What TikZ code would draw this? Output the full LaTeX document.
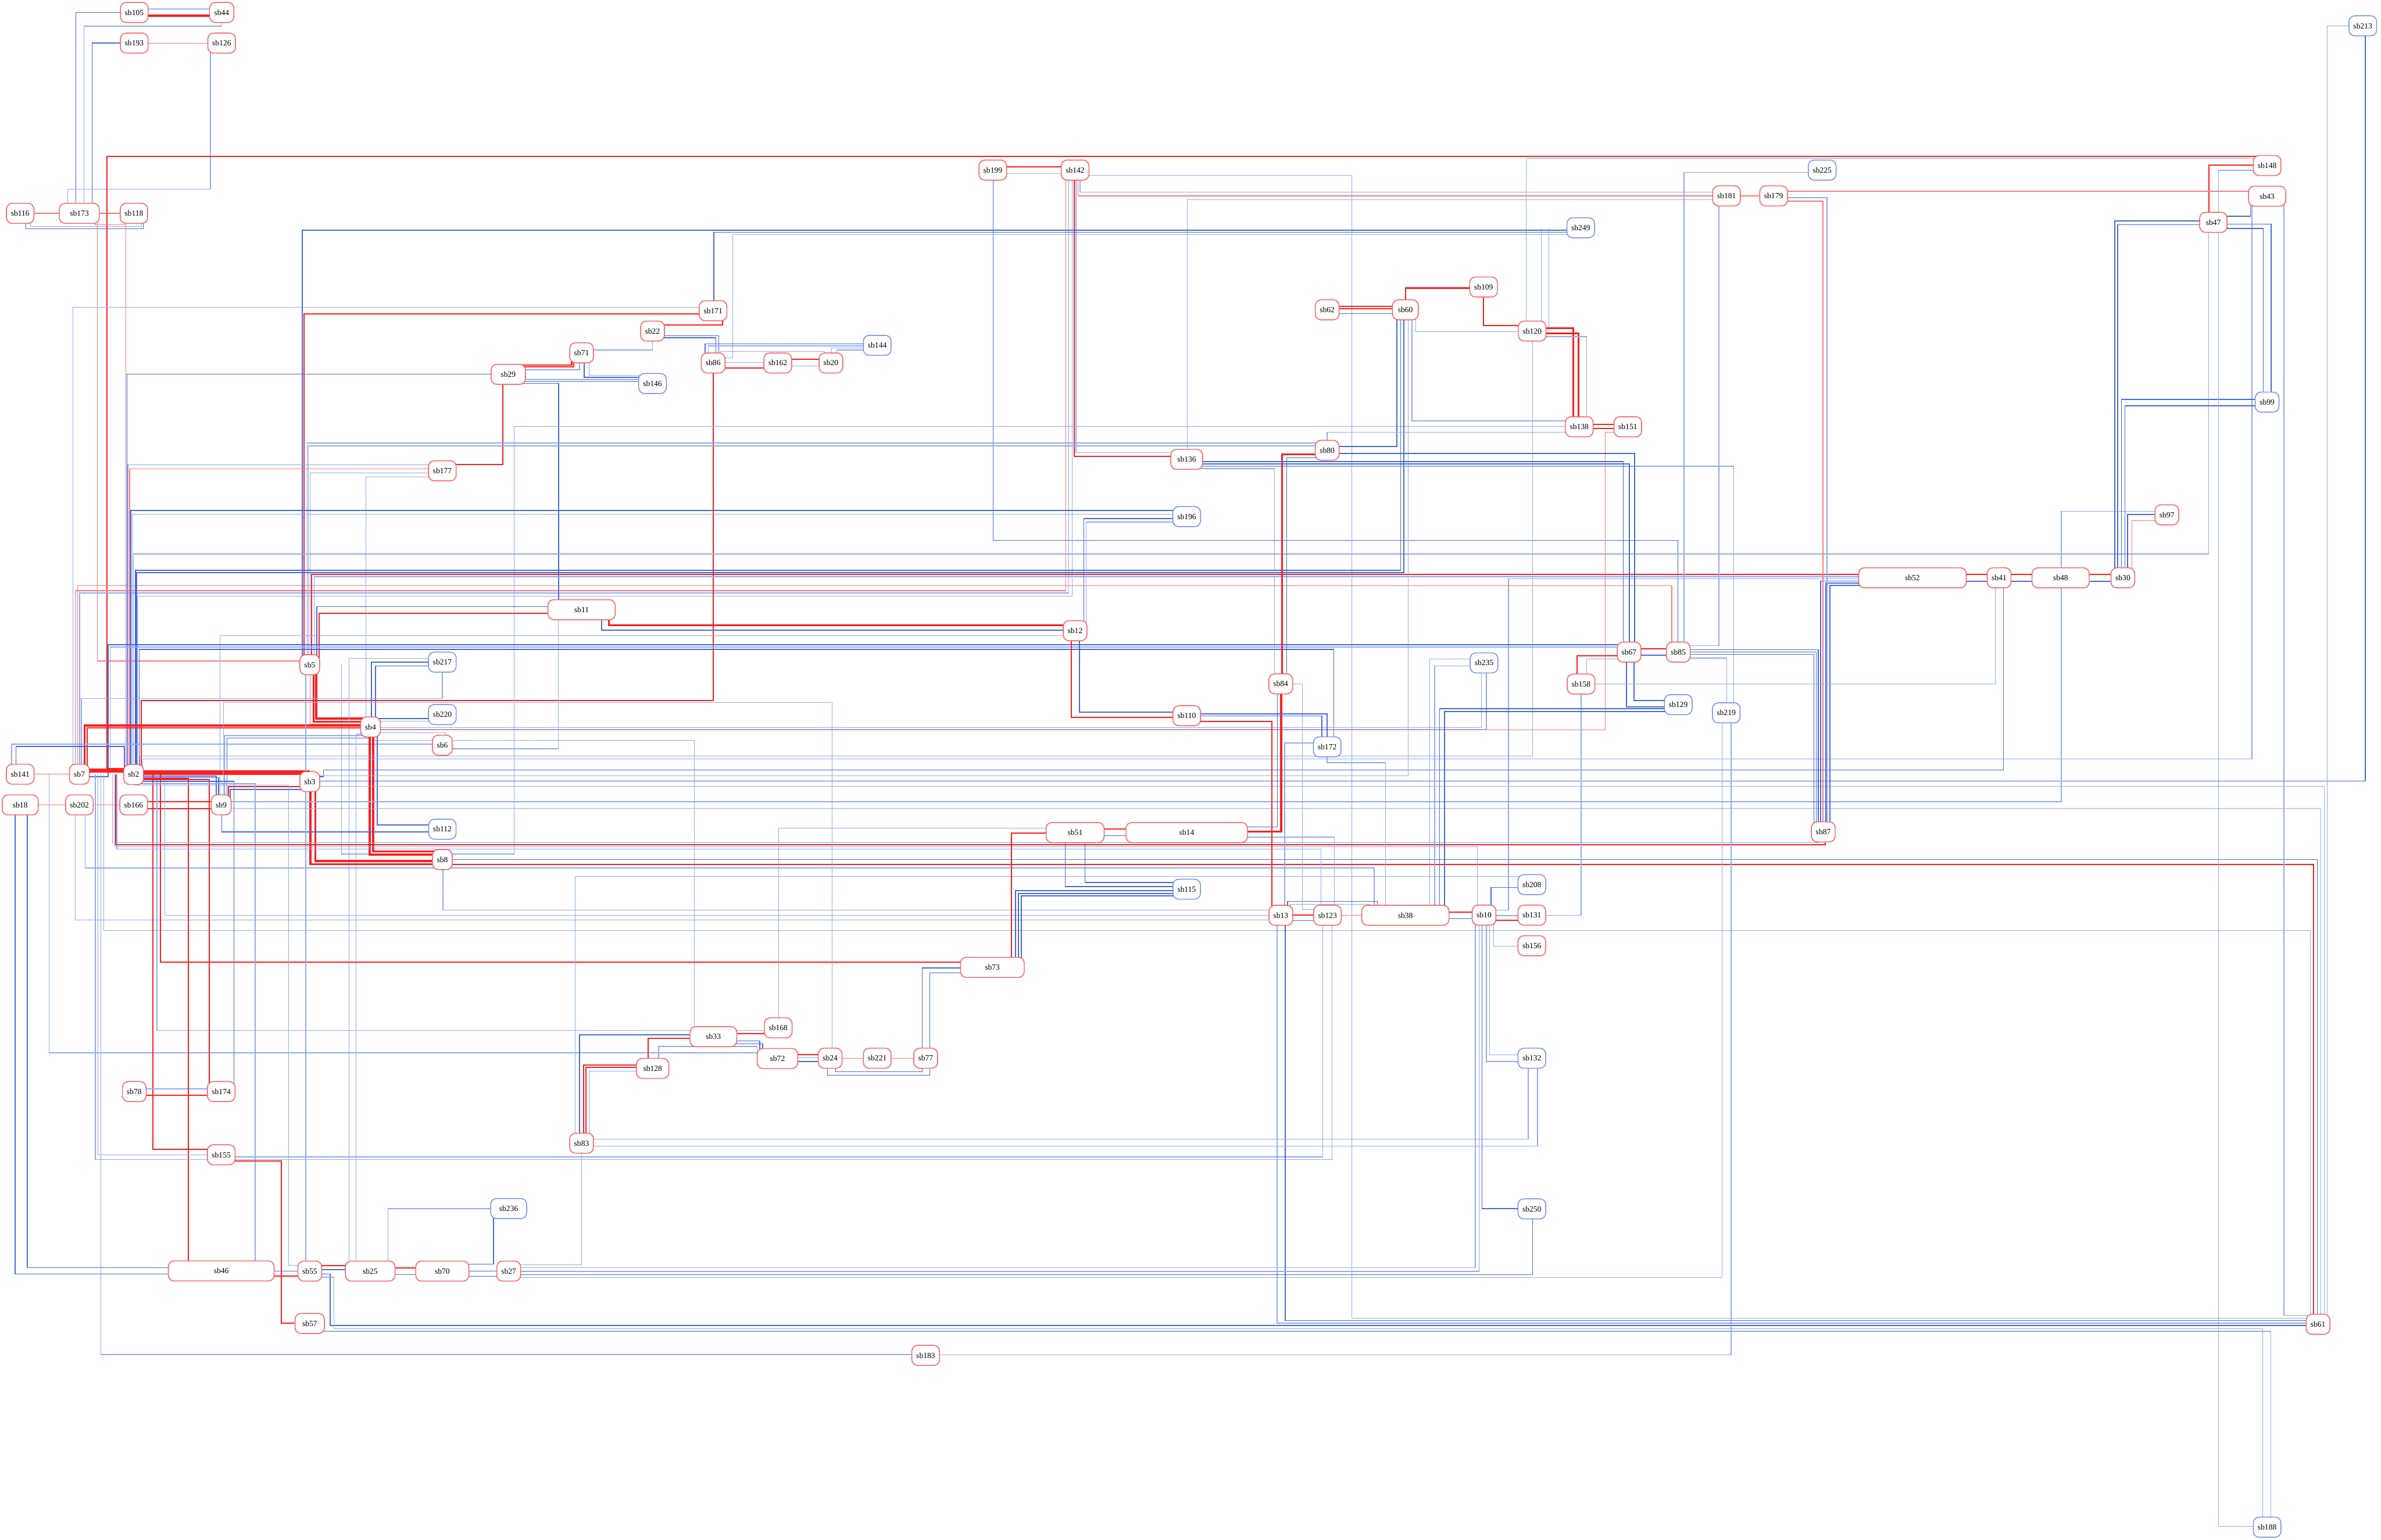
\documentclass[tikz,border=0pt]{standalone}
\usepackage{fontspec}
\setmainfont{Liberation Serif}
\pgfdeclarelayer{bg}
\pgfsetlayers{bg,main}
\definecolor{nred}{RGB}{255,90,90}
\definecolor{nblue}{RGB}{110,140,235}
\definecolor{redd}{RGB}{255,30,30}
\definecolor{redl}{RGB}{255,120,120}
\definecolor{blued}{RGB}{70,105,225}
\definecolor{bluel}{RGB}{145,170,240}
\tikzset{
  nd/.style={rounded corners=3.8pt, minimum height=13.2pt, inner xsep=2.9pt, inner ysep=0pt, fill=white, line width=0.55pt, font=\fontsize{5.2}{6}\selectfont},
  rn/.style={nd, draw=nred},
  bn/.style={nd, draw=nblue},
  r1/.style={draw=redl, line width=0.5pt},
  r2/.style={draw=redd, line width=0.8pt},
  r3/.style={draw=redd, line width=1.3pt},
  r4/.style={draw=redd, line width=2.8pt},
  b1/.style={draw=bluel, line width=0.5pt},
  b2/.style={draw=blued, line width=0.6pt},
}
\begin{document}
\begin{tikzpicture}[x=1pt,y=-1pt]
\useasboundingbox (0,0) rectangle (1568,1014);
% ---------------- nodes ----------------
\node[rn] (sb105) at (88.4,8.2) {sb105};
\node[rn, minimum width=16pt] (sb44) at (146,8.2) {sb44};
\node[rn] (sb193) at (88.4,28.4) {sb193};
\node[rn] (sb126) at (146,28.4) {sb126};
\node[bn] (sb213) at (1556,17) {sb213};
\node[rn] (sb116) at (13.3,140.5) {sb116};
\node[rn, minimum width=26.3pt] (sb173) at (52.3,140.5) {sb173};
\node[rn] (sb118) at (88.2,140.5) {sb118};
\node[rn] (sb199) at (653.8,112) {sb199};
\node[rn] (sb142) at (708,112) {sb142};
\node[rn] (sb148) at (1493,109) {sb148};
\node[bn] (sb225) at (1200,112) {sb225};
\node[rn, minimum width=24.5pt] (sb43) at (1493,129.2) {sb43};
\node[rn] (sb181) at (1137,129) {sb181};
\node[rn] (sb179) at (1168,129) {sb179};
\node[rn, minimum width=18pt] (sb47) at (1457.6,146.4) {sb47};
\node[bn] (sb249) at (1041,150) {sb249};
\node[rn] (sb171) at (469.6,204.6) {sb171};
\node[rn] (sb109) at (977,189) {sb109};
\node[rn] (sb62) at (874,204) {sb62};
\node[rn, minimum width=17pt] (sb60) at (925.5,204) {sb60};
\node[rn] (sb22) at (429.7,218) {sb22};
\node[rn] (sb120) at (1009,218) {sb120};
\node[bn] (sb144) at (577.7,227.4) {sb144};
\node[rn] (sb71) at (383,232.3) {sb71};
\node[rn] (sb86) at (469.6,239) {sb86};
\node[rn] (sb162) at (512.2,239) {sb162};
\node[rn] (sb20) at (547.2,239) {sb20};
\node[rn, minimum width=22.6pt] (sb29) at (334.7,246.5) {sb29};
\node[bn] (sb146) at (429.7,252.5) {sb146};
\node[bn] (sb99) at (1493,264.8) {sb99};
\node[rn] (sb138) at (1040,281) {sb138};
\node[rn] (sb151) at (1072,281) {sb151};
\node[rn] (sb80) at (874,296.5) {sb80};
\node[rn, minimum width=21pt] (sb136) at (781.5,302.5) {sb136};
\node[rn] (sb177) at (291.3,310) {sb177};
\node[bn] (sb196) at (781.5,340.2) {sb196};
\node[rn] (sb97) at (1427,339) {sb97};
\node[rn, minimum width=70.8pt] (sb52) at (1259.4,380.5) {sb52};
\node[rn] (sb41) at (1316.5,380.5) {sb41};
\node[rn, minimum width=37.6pt] (sb48) at (1357,380.5) {sb48};
\node[rn] (sb30) at (1398,380.5) {sb30};
\node[rn, minimum width=44.3pt] (sb11) at (383,401.5) {sb11};
\node[rn] (sb12) at (708,415.3) {sb12};
\node[rn] (sb5) at (204,437.7) {sb5};
\node[bn] (sb217) at (291.3,436) {sb217};
\node[rn] (sb67) at (1072.8,429.4) {sb67};
\node[rn] (sb85) at (1105.2,429.4) {sb85};
\node[bn] (sb235) at (977.3,436.5) {sb235};
\node[rn] (sb84) at (843.4,450.3) {sb84};
\node[rn] (sb158) at (1041.2,450.4) {sb158};
\node[bn] (sb129) at (1105.2,464) {sb129};
\node[bn] (sb220) at (291.3,470.5) {sb220};
\node[rn] (sb110) at (781.5,471.3) {sb110};
\node[bn] (sb219) at (1136.8,469.4) {sb219};
\node[rn] (sb4) at (244,478.7) {sb4};
\node[rn] (sb6) at (291.3,490.7) {sb6};
\node[bn] (sb172) at (874,491.8) {sb172};
\node[rn] (sb141) at (13.3,509.8) {sb141};
\node[rn] (sb7) at (52.3,509.8) {sb7};
\node[rn] (sb2) at (88,510) {sb2};
\node[rn] (sb3) at (204,514.7) {sb3};
\node[rn, minimum width=23.7pt] (sb18) at (13.3,530) {sb18};
\node[rn] (sb202) at (52.3,530) {sb202};
\node[rn] (sb166) at (88,530) {sb166};
\node[rn] (sb9) at (145.7,530) {sb9};
\node[bn] (sb112) at (291.3,546) {sb112};
\node[rn, minimum width=38.2pt] (sb51) at (708,548.2) {sb51};
\node[rn, minimum width=80pt] (sb14) at (781.5,548.2) {sb14};
\node[rn] (sb87) at (1200.7,547.8) {sb87};
\node[rn] (sb8) at (291.3,566) {sb8};
\node[bn] (sb115) at (781.5,585.5) {sb115};
\node[bn] (sb208) at (1008.8,582.5) {sb208};
\node[rn] (sb13) at (843.5,602.7) {sb13};
\node[rn] (sb123) at (874.2,602.7) {sb123};
\node[rn, minimum width=57.5pt] (sb38) at (925.5,602.7) {sb38};
\node[rn] (sb10) at (977.3,602.6) {sb10};
\node[rn] (sb131) at (1008.8,602.6) {sb131};
\node[rn] (sb156) at (1008.8,622.8) {sb156};
\node[rn, minimum width=42pt] (sb73) at (653.5,637) {sb73};
\node[rn] (sb168) at (512.5,676.8) {sb168};
\node[rn, minimum width=30.8pt] (sb33) at (469.8,682.6) {sb33};
\node[rn, minimum width=26.7pt] (sb72) at (512,697) {sb72};
\node[rn] (sb24) at (546.7,696.8) {sb24};
\node[rn] (sb221) at (577.7,696.8) {sb221};
\node[rn] (sb77) at (609.6,696.8) {sb77};
\node[bn] (sb132) at (1008.8,696.8) {sb132};
\node[rn, minimum width=21.3pt] (sb128) at (429.8,703.5) {sb128};
\node[rn] (sb78) at (88.4,718.8) {sb78};
\node[rn] (sb174) at (145.7,718.8) {sb174};
\node[rn] (sb83) at (383,752.8) {sb83};
\node[rn] (sb155) at (145.7,760.4) {sb155};
\node[bn, minimum width=23.7pt] (sb236) at (335,795.8) {sb236};
\node[bn] (sb250) at (1008.8,796) {sb250};
\node[rn, minimum width=69.7pt] (sb46) at (145.7,836.9) {sb46};
\node[rn] (sb55) at (204,837) {sb55};
\node[rn, minimum width=32.7pt] (sb25) at (243.8,837) {sb25};
\node[rn, minimum width=35pt] (sb70) at (291.3,837) {sb70};
\node[rn, minimum width=15.7pt] (sb27) at (335,837) {sb27};
\node[rn] (sb61) at (1526.5,872) {sb61};
\node[rn, minimum width=19.3pt] (sb57) at (204,871.5) {sb57};
\node[rn] (sb183) at (609.6,892.5) {sb183};
\node[bn] (sb188) at (1493,1005.6) {sb188};
% ---------------- edges ----------------
\begin{pgfonlayer}{bg}
% top-left cluster
\draw[b2] (sb105 |- 0,6) -- (sb44 |- 0,6);
\draw[r3] (sb105 |- 0,10.3) -- (sb44 |- 0,10.3);
\draw[b2] (sb105) -- (50,0 |- sb105) -- (50,0 |- sb173);
\draw[b1] (sb44) -- (146,17.2) -- (55.4,17.2) -- (55.4,0 |- sb173);
\draw[b2] (sb193) -- (60.6,0 |- sb193) -- (60.6,0 |- sb173);
\draw[r1] (sb193) -- (sb126);
\draw[b1] (138.6,0 |- sb126) -- (138.6,124.5) -- (44.5,124.5) -- (44.5,0 |- sb173);
\draw[r1] (sb116) -- (sb173);
\draw[r1] (sb173) -- (sb118);
\draw[b2] (17,0 |- sb116) -- (17,150.7) -- (94.3,150.7) -- (94.3,0 |- sb118);
\draw[b1] (20,0 |- sb116) -- (20,149.2) -- (93.3,149.2) -- (93.3,0 |- sb118);
\draw[r2] (sb148 |- 0,103) -- (70.3,103) -- (70.3,506) -- (sb2 |- 0,506);
\draw[b1] (sb148 |- 0,104.3) -- (1005,104.3) -- (1005,0 |- sb120);
\draw[r1] (64.2,0 |- sb173) -- (64.2,435.3) -- (sb5 |- 0,435.3);
\draw[r1] (62.6,0 |- sb173) -- (62.6,148) -- (82.8,148) -- (82.8,0 |- sb2);
% sb199 / sb142
\draw[r2] (sb199 |- 0,109.8) -- (sb142 |- 0,109.8);
\draw[b1] (sb199 |- 0,114.3) -- (sb142 |- 0,114.3);
\draw[b2] (654,0 |- sb199) -- (654,355.9) -- (1105,355.9) -- (1105,0 |- sb85);
\draw[b1] (sb142 |- 0,115.4) -- (890.3,115.4) -- (890.3,868) -- (sb61 |- 0,868);
\draw[r1] (709.8,0 |- sb142) -- (709.8,129) -- (sb181 |- 0,129);
\draw[b1] (711.3,0 |- sb142) -- (711.3,126.6) -- (sb181 |- 0,126.6);
\draw[b1] (sb181 |- 0,131.4) -- (781.8,131.4) -- (781.8,0 |- sb136);
\draw[r1] (702,0 |- sb142) -- (702,388.9) -- (49.5,388.9) -- (49.5,0 |- sb7);
\draw[r1] (1101,0 |- sb85) -- (1101,385.8) -- (51,385.8) -- (51,0 |- sb7);
\draw[b1] (703.7,0 |- sb142) -- (703.7,390.5) -- (52.5,390.5) -- (52.5,0 |- sb7);
\draw[b1] (706,0 |- sb142) -- (706,392.5) -- (90.5,392.5) -- (90.5,0 |- sb2);
\draw[r2] (707.3,0 |- sb142) -- (707.3,300.5) -- (sb136 |- 0,300.5);
\draw[b1] (708.6,0 |- sb142) -- (708.6,298) -- (sb136 |- 0,298);
% sb249
\draw[b2] (sb249 |- 0,151.5) -- (199,151.5) -- (199,0 |- sb5);
\draw[b2] (sb249 |- 0,153) -- (470,153) -- (470,0 |- sb171);
\draw[b1] (sb249 |- 0,154.5) -- (482.6,154.5) -- (482.6,235.5) -- (sb86 |- 0,235.5);
\draw[b1] (1015,0 |- sb249) -- (1015,0 |- sb120);
\draw[b1] (1020,0 |- sb249) -- (1020,0 |- sb120);
% sb171 / sb22 / sb71 / sb29
\draw[b1] (sb171 |- 0,202.2) -- (48,202.2) -- (48,0 |- sb7);
\draw[r2] (sb171 |- 0,206.8) -- (200.3,206.8) -- (200.3,0 |- sb5);
\draw[r2] (475.9,0 |- sb171) -- (475.9,213.9) -- (sb22 |- 0,213.9);
\draw[b2] (sb22 |- 0,221) -- (473.3,221) -- (473.3,0 |- sb86);
\draw[b2] (sb22 |- 0,222.5) -- (471.5,222.5) -- (471.5,0 |- sb86);
\draw[b1] (429.7,0 |- sb22) -- (429.7,230.4) -- (sb71 |- 0,230.4);
\draw[r2] (378,0 |- sb71) -- (378,241.6) -- (sb29 |- 0,241.6);
\draw[r2] (376.5,0 |- sb71) -- (376.5,240.4) -- (sb29 |- 0,240.4);
\draw[b2] (384.8,0 |- sb71) -- (384.8,248.5) -- (sb146 |- 0,248.5);
\draw[b1] (388,0 |- sb71) -- (388,247) -- (sb146 |- 0,247);
\draw[b2] (sb29 |- 0,249.8) -- (sb146 |- 0,249.8);
\draw[b1] (sb29 |- 0,251.1) -- (sb146 |- 0,251.1);
\draw[b1] (sb29 |- 0,243.5) -- (381.7,243.5) -- (381.7,0 |- sb71);
\draw[b2] (sb29 |- 0,246.4) -- (83.6,246.4) -- (83.6,0 |- sb2);
\draw[b2] (sb29 |- 0,252.4) -- (367.8,252.4) -- (367.8,0 |- sb11);
\draw[r2] (331,0 |- sb29) -- (331,306) -- (sb177 |- 0,306);
% sb177
\draw[b1] (sb177 |- 0,306) -- (84.2,306) -- (84.2,0 |- sb2);
\draw[r1] (sb177 |- 0,308.7) -- (85.4,308.7) -- (85.4,0 |- sb2);
\draw[b1] (sb177 |- 0,311.3) -- (204.3,311.3) -- (204.3,0 |- sb5);
\draw[b1] (sb177 |- 0,314) -- (240.9,314) -- (240.9,0 |- sb4);
% sb144 / sb86 / sb162 / sb20
\draw[b2] (sb144 |- 0,226.5) -- (464.4,226.5) -- (464.4,0 |- sb86);
\draw[b1] (sb144 |- 0,227.8) -- (466.5,227.8) -- (466.5,0 |- sb86);
\draw[b1] (sb144 |- 0,229.2) -- (547.6,229.2) -- (547.6,0 |- sb20);
\draw[b1] (sb144 |- 0,230.4) -- (551,230.4) -- (551,0 |- sb20);
\draw[b1] (474.5,0 |- sb86) -- (474.5,231.4) -- (543,231.4) -- (543,0 |- sb20);
\draw[b1] (sb86 |- 0,238.6) -- (sb162 |- 0,238.6);
\draw[r2] (sb86 |- 0,242.2) -- (sb162 |- 0,242.2);
\draw[r2] (sb162 |- 0,236.7) -- (sb20 |- 0,236.7);
\draw[b1] (sb162 |- 0,241) -- (sb20 |- 0,241);
\draw[r2] (469.7,0 |- sb86) -- (469.7,461.3) -- (93,461.3) -- (93,0 |- sb2);
% sb5 / sb138 / sb80 / sb196 / sb47 / sb60 / sb52
\draw[b1] (224.8,0 |- sb5) -- (224.8,562.4) -- (338.7,562.4) -- (338.7,280.7) -- (sb138 |- 0,280.7);
\draw[b1] (sb80 |- 0,291.7) -- (202.2,291.7) -- (202.2,0 |- sb5);
\draw[b1] (sb80 |- 0,293.6) -- (203.2,293.6) -- (203.2,0 |- sb5);
\draw[b2] (sb196 |- 0,336.2) -- (86.2,336.2) -- (86.2,0 |- sb2);
\draw[b1] (sb196 |- 0,338.7) -- (87,338.7) -- (87,0 |- sb2);
\draw[b1] (1454.6,0 |- sb47) -- (1454.6,364.8) -- (87.8,364.8) -- (87.8,0 |- sb2);
\draw[b2] (922.3,0 |- sb60) -- (922.3,375.5) -- (89.2,375.5) -- (89.2,0 |- sb2);
\draw[b2] (924.5,0 |- sb60) -- (924.5,377) -- (89.9,377) -- (89.9,0 |- sb2);
\draw[r2] (sb52 |- 0,378.3) -- (205.3,378.3) -- (205.3,0 |- sb5);
\draw[b1] (sb52 |- 0,379.7) -- (206.8,379.7) -- (206.8,0 |- sb5);
\draw[b1] (sb52 |- 0,381) -- (993.4,381) -- (993.4,599.3) -- (sb10 |- 0,599.3);
% sb11 / sb12
\draw[b2] (sb11 |- 0,399.4) -- (208.7,399.4) -- (208.7,0 |- sb5);
\draw[r2] (sb11 |- 0,403.8) -- (210,403.8) -- (210,0 |- sb5);
\draw[r2] (401,0 |- sb11) -- (401,411.7) -- (sb12 |- 0,411.7);
\draw[b2] (396.3,0 |- sb11) -- (396.3,415) -- (sb12 |- 0,415);
\draw[b1] (367.8,0 |- sb11) -- (367.8,493) -- (sb6 |- 0,493);
\draw[b1] (sb12 |- 0,418.5) -- (144.9,418.5) -- (144.9,0 |- sb9);
\draw[b2] (sb67 |- 0,424.6) -- (71.2,424.6) -- (71.2,511.5) -- (sb7 |- 0,511.5);
\draw[b1] (sb67 |- 0,426.1) -- (72.5,426.1) -- (72.5,0 |- sb141) ;
\draw[b2] (878.4,0 |- sb172) -- (878.4,427.7) -- (91.6,427.7) -- (91.6,0 |- sb2);
% sb5 -> sb4 etc
\draw[r3] (206.5,0 |- sb5) -- (206.5,475.3) -- (sb4 |- 0,475.3);
\draw[r3] (208.2,0 |- sb5) -- (208.2,473.2) -- (sb4 |- 0,473.2);
\draw[r1] (204.3,0 |- sb5) -- (204.3,476.9) -- (sb4 |- 0,476.9);
\draw[b1] (sb217 |- 0,433.4) -- (230,433.4) -- (230,0 |- sb25);
\draw[b2] (sb217 |- 0,436) -- (244.6,436) -- (244.6,0 |- sb4);
\draw[b2] (sb217 |- 0,438.5) -- (247.4,438.5) -- (247.4,0 |- sb4);
\draw[b1] (291.3,0 |- sb217) -- (291.3,460) -- (53.6,460) -- (53.6,0 |- sb7);
\draw[b2] (sb220 |- 0,473.2) -- (sb4 |- 0,473.2);
\draw[b1] (sb220 |- 0,475) -- (sb4 |- 0,475);
\draw[r3] (sb4 |- 0,477.7) -- (55.7,477.7) -- (55.7,0 |- sb7);
\draw[r2] (sb4 |- 0,479.4) -- (57.3,479.4) -- (57.3,0 |- sb7);
\draw[b1] (sb4 |- 0,482.5) -- (293.5,482.5) -- (293.5,0 |- sb6);
\draw[b2] (sb4 |- 0,484.5) -- (148,484.5) -- (148,0 |- sb9);
\draw[b2] (sb4 |- 0,486) -- (149.5,486) -- (149.5,0 |- sb9);
\draw[b1] (sb4 |- 0,483.5) -- (234.4,483.5) -- (234.4,0 |- sb25);
\draw[r1] (sb151 |- 0,284.5) -- (1057,284.5) -- (1057,480.6) -- (sb4 |- 0,480.6);
\draw[b1] (457.3,0 |- sb33) -- (457.3,487.5) -- (sb4 |- 0,487.5);
\draw[b1] (975.6,0 |- sb235) -- (975.6,479) -- (sb4 |- 0,479);
\draw[b1] (978.8,0 |- sb235) -- (978.8,480.2) -- (sb4 |- 0,480.2);
% sb141 / sb7 / sb2 / sb3 / sb9
\draw[r1] (sb141) -- (sb7);
\draw[b1] (7.6,0 |- sb141) -- (7.6,490) -- (sb6 |- 0,490);
\draw[b2] (10.5,0 |- sb141) -- (10.5,491.5) -- (82,491.5) -- (82,0 |- sb2);
\draw[r4] (sb7 |- 0,507.5) -- (sb2 |- 0,507.5);
\draw[r4] (sb2 |- 0,508.7) -- (sb3 |- 0,508.7);
\draw[r1] (sb18) -- (sb202);
\draw[r1] (sb202) -- (sb166);
\draw[r2] (sb166 |- 0,527.8) -- (sb9 |- 0,527.8);
\draw[r2] (sb166 |- 0,532.4) -- (sb9 |- 0,532.4);
\draw[r2] (sb3 |- 0,518.1) -- (150.4,518.1) -- (150.4,0 |- sb9);
\draw[b2] (sb3 |- 0,519.8) -- (151.7,519.8) -- (151.7,0 |- sb9);
\draw[r3] (204.4,0 |- sb3) -- (204.4,569) -- (sb8 |- 0,569);
\draw[r3] (207.7,0 |- sb3) -- (207.7,567) -- (sb8 |- 0,567);
\draw[r3] (243.4,0 |- sb4) -- (243.4,562.7) -- (sb8 |- 0,562.7);
\draw[r3] (245.7,0 |- sb4) -- (245.7,560.7) -- (sb8 |- 0,560.7);
\draw[b2] (sb2 |- 0,511) -- (142.5,511) -- (142.5,0 |- sb9);
\draw[b2] (sb2 |- 0,512) -- (144,512) -- (144,0 |- sb9);
\draw[b2] (146,0 |- sb9) -- (146,547.8) -- (sb112 |- 0,547.8);
\draw[b2] (248.4,0 |- sb4) -- (248.4,543.2) -- (sb112 |- 0,543.2);
\draw[b1] (291.7,0 |- sb8) -- (291.7,599.2) -- (sb13 |- 0,599.2);
\draw[b2] (sb8 |- 0,566) -- (1526,566) -- (1526,0 |- sb61);
\draw[r2] (sb8 |- 0,569.4) -- (1523.4,569.4) -- (1523.4,0 |- sb61);
\draw[b1] (56,0 |- sb202) -- (56,571.5) -- (905,571.5) -- (905,0 |- sb38);
\draw[b1] (49.7,0 |- sb202) -- (49.7,605.8) -- (sb13 |- 0,605.8);
\draw[b1] (108.4,0 |- sb2) -- (108.4,602.7) -- (sb13 |- 0,602.7);
\draw[b1] (68.3,0 |- sb7) -- (68.3,612.7) -- (1521.4,612.7) -- (1521.4,0 |- sb61);
\draw[r2] (105.7,0 |- sb2) -- (105.7,633.5) -- (sb73 |- 0,633.5);
\draw[b1] (103.3,0 |- sb2) -- (103.3,678.4) -- (sb33 |- 0,678.4);
\draw[b1] (32.3,0 |- sb141) -- (32.3,693.3) -- (sb72 |- 0,693.3);
\draw[r2] (100.7,0 |- sb2) -- (100.7,756.7) -- (sb155 |- 0,756.7);
\draw[r2] (sb2 |- 0,513.5) -- (137.7,513.5) -- (137.7,0 |- sb174);
\draw[b2] (sb2 |- 0,514.5) -- (154,514.5) -- (154,0 |- sb174);
\draw[b1] (sb78 |- 0,717) -- (sb174 |- 0,717);
\draw[r2] (sb78 |- 0,721.2) -- (sb174 |- 0,721.2);
\draw[r2] (sb2 |- 0,512.7) -- (124,512.7) -- (124,0 |- sb46);
\draw[b1] (sb2 |- 0,516) -- (168,516) -- (168,0 |- sb46);
\draw[b1] (sb2 |- 0,517) -- (190,517) -- (190,833.2) -- (sb55 |- 0,833.2);
\draw[b1] (201.3,0 |- sb5) -- (201.3,0 |- sb55);
\draw[b2] (10,0 |- sb18) -- (10,839) -- (sb46 |- 0,839);
\draw[b2] (18,0 |- sb18) -- (18,834.7) -- (sb46 |- 0,834.7);
\draw[b1] (66.5,0 |- sb7) -- (66.5,892) -- (sb183 |- 0,892);
\draw[b1] (64.5,0 |- sb7) -- (64.5,760.4) -- (sb155 |- 0,760.4);
\draw[b1] (871,0 |- sb123) -- (871,761.8) -- (sb155 |- 0,761.8);
\draw[b1] (877.1,0 |- sb123) -- (877.1,763.5) -- (62.8,763.5) -- (62.8,0 |- sb7);
\draw[b1] (77,0 |- sb2) -- (77,559) -- (869.9,559) -- (869.9,0 |- sb123);
\draw[b1] (972.8,0 |- sb10) -- (972.8,557.6) -- (75.5,557.6) -- (75.5,0 |- sb2);
\draw[r2] (1202,0 |- sb87) -- (1202,556.3) -- (76.2,556.3) -- (76.2,0 |- sb2);
\draw[b1] (1197,0 |- sb87) -- (1197,554.8) -- (74,554.8) -- (74,0 |- sb2);
% long lines from the right into sb2 / sb3 / sb9
\draw[b1] (1483,0 |- sb43) -- (1483,499.7) -- (94,499.7) -- (94,0 |- sb2);
\draw[b1] (1009.2,0 |- sb120) -- (1009.2,497.8) -- (92,497.8) -- (92,0 |- sb2);
\draw[b2] (1319.4,0 |- sb41) -- (1319.4,507.1) -- (213,507.1) -- (213,511.5) -- (sb3 |- 0,511.5);
\draw[b2] (1557.7,0 |- sb213) -- (1557.7,514.3) -- (sb3 |- 0,514.3);
\draw[b1] (1530.7,0 |- sb61) -- (1530.7,517.8) -- (sb3 |- 0,517.8);
\draw[b1] (1528.3,0 |- sb61) -- (1528.3,532.4) -- (sb9 |- 0,532.4);
\draw[b1] (1357.4,0 |- sb48) -- (1357.4,527.9) -- (sb9 |- 0,527.9);
\draw[b1] (927.3,0 |- sb60) -- (927.3,510.9) -- (sb3 |- 0,510.9);
\draw[b1] (548,0 |- sb24) -- (548,462.5) -- (147.2,462.5) -- (147.2,0 |- sb9);
% bottom row
\draw[b2] (sb46 |- 0,837) -- (sb55 |- 0,837);
\draw[r2] (sb46 |- 0,840.4) -- (sb55 |- 0,840.4);
\draw[r2] (sb55 |- 0,833.2) -- (sb25 |- 0,833.2);
\draw[b2] (sb55 |- 0,836.1) -- (sb25 |- 0,836.1);
\draw[r2] (sb25 |- 0,835) -- (sb70 |- 0,835);
\draw[b2] (sb25 |- 0,839.3) -- (sb70 |- 0,839.3);
\draw[b2] (sb70 |- 0,837) -- (sb27 |- 0,837);
\draw[b2] (sb70 |- 0,840.4) -- (sb27 |- 0,840.4);
\draw[b2] (sb70 |- 0,832.4) -- (325,832.4) -- (325,0 |- sb236);
\draw[b1] (255.4,0 |- sb25) -- (255.4,795.8) -- (sb236 |- 0,795.8);
\draw[b1] (sb27 |- 0,832.7) -- (383,832.7) -- (383,0 |- sb83);
\draw[r2] (sb155 |- 0,764.6) -- (185.4,764.6) -- (185.4,871.2) -- (sb57 |- 0,871.2);
\draw[b2] (sb55 |- 0,839) -- (217.4,839) -- (217.4,872.7) -- (sb61 |- 0,872.7);
\draw[b1] (sb55 |- 0,841) -- (220,841) -- (220,875) -- (1490,875) -- (1490,0 |- sb188);
\draw[b1] (sb57 |- 0,876.6) -- (1495.5,876.6) -- (1495.5,0 |- sb188);
\draw[b1] (841,0 |- sb13) -- (841,871.3) -- (sb61 |- 0,871.3);
\draw[b2] (846.3,0 |- sb13) -- (846.3,869.6) -- (sb61 |- 0,869.6);
\draw[b1] (971.6,0 |- sb10) -- (971.6,834.6) -- (sb27 |- 0,834.6);
\draw[b1] (974,0 |- sb10) -- (974,837.2) -- (sb27 |- 0,837.2);
\draw[b2] (1009.2,0 |- sb250) -- (1009.2,839.3) -- (sb27 |- 0,839.3);
\draw[b1] (1134,0 |- sb219) -- (1134,841.3) -- (sb27 |- 0,841.3);
\draw[b2] (976,0 |- sb10) -- (976,795.9) -- (sb250 |- 0,795.9);
\draw[b1] (1140,0 |- sb219) -- (1140,892.2) -- (sb183 |- 0,892.2);
\draw[b1] (sb136 |- 0,307) -- (1141.8,307) -- (1141.8,0 |- sb219);
% sb83 / sb33 cluster
\draw[r2] (384.4,0 |- sb83) -- (384.4,701.3) -- (sb128 |- 0,701.3);
\draw[r2] (386,0 |- sb83) -- (386,702.8) -- (sb128 |- 0,702.8);
\draw[b1] (388.4,0 |- sb83) -- (388.4,705.3) -- (sb128 |- 0,705.3);
\draw[b1] (378.7,0 |- sb83) -- (378.7,577.2) -- (sb208 |- 0,577.2);
\draw[b2] (381.7,0 |- sb83) -- (381.7,681.3) -- (sb33 |- 0,681.3);
\draw[b1] (1006.4,0 |- sb132) -- (1006.4,750.2) -- (sb83 |- 0,750.2);
\draw[b1] (1012.5,0 |- sb132) -- (1012.5,754.8) -- (sb83 |- 0,754.8);
\draw[b1] (981,0 |- sb10) -- (981,694.6) -- (sb132 |- 0,694.6);
\draw[b1] (978.8,0 |- sb10) -- (978.8,699) -- (sb132 |- 0,699);
\draw[b1] (983.7,0 |- sb10) -- (983.7,622.9) -- (sb156 |- 0,622.9);
\draw[b1] (sb33 |- 0,678.4) -- (sb168 |- 0,678.4);
\draw[r2] (sb33 |- 0,680.8) -- (sb168 |- 0,680.8);
\draw[b2] (sb33 |- 0,685.5) -- (500.3,685.5) -- (500.3,0 |- sb72);
\draw[b2] (sb33 |- 0,687.3) -- (502.2,687.3) -- (502.2,0 |- sb72);
\draw[r2] (sb33 |- 0,683.7) -- (426.8,683.7) -- (426.8,0 |- sb128);
\draw[b1] (433.7,0 |- sb128) -- (433.7,689) -- (498.5,689) -- (498.5,0 |- sb72);
\draw[r2] (sb72 |- 0,694.4) -- (sb24 |- 0,694.4);
\draw[b1] (sb72 |- 0,696.6) -- (sb24 |- 0,696.6);
\draw[b2] (sb72 |- 0,698.9) -- (sb24 |- 0,698.9);
\draw[r1] (sb24) -- (sb221);
\draw[r1] (sb221) -- (sb77);
\draw[b2] (545,0 |- sb24) -- (545,708) -- (612.3,708) -- (612.3,0 |- sb77);
\draw[b2] (550.3,0 |- sb24) -- (550.3,705.7) -- (607.4,705.7) -- (607.4,0 |- sb77);
\draw[b2] (sb73 |- 0,637.3) -- (607.4,637.3) -- (607.4,0 |- sb77);
\draw[b2] (sb73 |- 0,640.7) -- (612.3,640.7) -- (612.3,0 |- sb77);
% sb51 / sb14 / sb115 / sb73
\draw[b1] (sb51 |- 0,545.3) -- (512.9,545.3) -- (512.9,0 |- sb168);
\draw[r2] (sb51 |- 0,548.7) -- (666,548.7) -- (666,0 |- sb73);
\draw[r2] (sb51 |- 0,545.9) -- (sb14 |- 0,545.9);
\draw[b2] (sb51 |- 0,550.3) -- (sb14 |- 0,550.3);
\draw[b2] (701.5,0 |- sb51) -- (701.5,583.8) -- (sb115 |- 0,583.8);
\draw[b2] (714.5,0 |- sb51) -- (714.5,581.2) -- (sb115 |- 0,581.2);
\draw[b2] (sb115 |- 0,586.5) -- (668.7,586.5) -- (668.7,0 |- sb73);
\draw[b2] (sb115 |- 0,588.3) -- (670.6,588.3) -- (670.6,0 |- sb73);
\draw[b2] (sb115 |- 0,589.9) -- (672.6,589.9) -- (672.6,0 |- sb73);
\draw[b1] (sb14 |- 0,551.3) -- (878.7,551.3) -- (878.7,0 |- sb123);
% sb13 / sb123 / sb38 / sb10 / sb131
\draw[r2] (sb13 |- 0,602.7) -- (sb123 |- 0,602.7);
\draw[b2] (sb13 |- 0,606.2) -- (sb123 |- 0,606.2);
\draw[r1] (sb123) -- (sb38);
\draw[r2] (sb38 |- 0,600.5) -- (sb10 |- 0,600.5);
\draw[b1] (sb38 |- 0,604.8) -- (sb10 |- 0,604.8);
\draw[b1] (sb10 |- 0,602.9) -- (sb131 |- 0,602.9);
\draw[r2] (sb10 |- 0,606) -- (sb131 |- 0,606);
\draw[b2] (848,0 |- sb13) -- (848,593.5) -- (907,593.5) -- (907,0 |- sb38);
\draw[b1] (849.6,0 |- sb13) -- (849.6,595.5) -- (902,595.5) -- (902,0 |- sb38);
\draw[b2] (sb208 |- 0,584.3) -- (982,584.3) -- (982,0 |- sb10);
\draw[b1] (1041.2,0 |- sb158) -- (1041.2,602.7) -- (sb131 |- 0,602.7);
\draw[r2] (837.5,0 |- sb13) -- (837.5,475) -- (sb110 |- 0,475);
\draw[b1] (sb84) -- (857.7,0 |- sb84) -- (857.7,598.8) -- (sb123 |- 0,598.8);
% sb84 / sb80 / sb136 / sb12 / sb110 / sb172
\draw[r3] (sb80 |- 0,299.2) -- (844.2,299.2) -- (844.2,0 |- sb84);
\draw[b2] (sb80 |- 0,301.5) -- (847.3,301.5) -- (847.3,0 |- sb84);
\draw[b1] (sb136 |- 0,308.5) -- (839.4,308.5) -- (839.4,0 |- sb84);
\draw[r3] (843.7,0 |- sb84) -- (843.7,547.6) -- (sb14 |- 0,547.6);
\draw[b2] (841.2,0 |- sb84) -- (841.2,544.5) -- (sb14 |- 0,544.5);
\draw[b2] (sb80 |- 0,294) -- (919.8,294) -- (919.8,0 |- sb60);
\draw[b1] (874,0 |- sb80) -- (874,284.5) -- (sb138 |- 0,284.5);
\draw[b2] (sb80 |- 0,298.7) -- (1076.5,298.7) -- (1076.5,0 |- sb67);
\draw[b2] (sb136 |- 0,304) -- (1069,304) -- (1069,0 |- sb67);
\draw[b2] (sb136 |- 0,305.5) -- (1073,305.5) -- (1073,0 |- sb67);
\draw[r2] (705.5,0 |- sb12) -- (705.5,472.5) -- (sb110 |- 0,472.5);
\draw[b2] (710.8,0 |- sb12) -- (710.8,469) -- (sb110 |- 0,469);
\draw[b2] (713.7,0 |- sb12) -- (713.7,341.5) -- (sb196 |- 0,341.5);
\draw[b1] (715.4,0 |- sb12) -- (715.4,343.8) -- (sb196 |- 0,343.8);
\draw[b2] (sb110 |- 0,471.4) -- (870.5,471.4) -- (870.5,0 |- sb172);
\draw[b2] (sb110 |- 0,470) -- (874,470) -- (874,0 |- sb172);
\draw[b1] (sb172) -- (874,502.3) -- (912.5,502.3) -- (912.5,0 |- sb38);
\draw[b1] (sb172 |- 0,489.2) -- (846,489.2) -- (846,0 |- sb13);
% sb60 / sb62 / sb109 / sb120 / sb138 / sb151
\draw[r2] (sb62 |- 0,201.8) -- (sb60 |- 0,201.8);
\draw[r2] (sb62 |- 0,203.2) -- (sb60 |- 0,203.2);
\draw[b2] (sb62 |- 0,206.6) -- (sb60 |- 0,206.6);
\draw[r2] (925.5,0 |- sb60) -- (925.5,189.7) -- (sb109 |- 0,189.7);
\draw[r2] (977,0 |- sb109) -- (977,214.3) -- (sb120 |- 0,214.3);
\draw[b1] (932.3,0 |- sb60) -- (932.3,218.4) -- (sb120 |- 0,218.4);
\draw[b1] (929.8,0 |- sb60) -- (929.8,277.2) -- (sb138 |- 0,277.2);
\draw[r3] (sb120 |- 0,216) -- (1036,216) -- (1036,0 |- sb138);
\draw[r3] (sb120 |- 0,219.5) -- (1039.5,219.5) -- (1039.5,0 |- sb138);
\draw[b1] (sb120 |- 0,221.6) -- (1045,221.6) -- (1045,0 |- sb138);
\draw[r2] (sb138 |- 0,279.6) -- (sb151 |- 0,279.6);
\draw[r2] (sb138 |- 0,282.2) -- (sb151 |- 0,282.2);
% sb67 / sb85 / sb158 / sb129 / sb87 / sb219 / sb225 / sb181
\draw[r2] (sb67 |- 0,427.1) -- (sb85 |- 0,427.1);
\draw[b2] (sb67 |- 0,431.4) -- (sb85 |- 0,431.4);
\draw[r2] (sb67 |- 0,431.9) -- (1038.4,431.9) -- (1038.4,0 |- sb158);
\draw[b1] (sb67 |- 0,434) -- (1044.8,434) -- (1044.8,0 |- sb158);
\draw[b2] (1071.2,0 |- sb67) -- (1071.2,465.5) -- (sb129 |- 0,465.5);
\draw[b2] (1076,0 |- sb67) -- (1076,461.2) -- (sb129 |- 0,461.2);
\draw[b2] (sb85 |- 0,427.8) -- (1197.5,427.8) -- (1197.5,0 |- sb87);
\draw[b2] (sb85 |- 0,429.3) -- (1196,429.3) -- (1196,0 |- sb87);
\draw[b2] (sb85 |- 0,430.9) -- (1194.6,430.9) -- (1194.6,0 |- sb87);
\draw[b1] (sb85 |- 0,433.3) -- (1137,433.3) -- (1137,0 |- sb219);
\draw[b1] (1109,0 |- sb85) -- (1109,113.5) -- (sb225 |- 0,113.5);
\draw[b1] (sb85 |- 0,425) -- (1132,425) -- (1132,0 |- sb181);
\draw[b2] (sb52 |- 0,382.6) -- (1199,382.6) -- (1199,0 |- sb87);
\draw[b2] (sb52 |- 0,384) -- (1202.4,384) -- (1202.4,0 |- sb87);
\draw[b2] (sb52 |- 0,385.5) -- (1205,385.5) -- (1205,0 |- sb87);
\draw[b1] (sb158 |- 0,450.4) -- (1314,450.4) -- (1314,0 |- sb41);
\draw[b1] (sb235 |- 0,433.8) -- (941.6,433.8) -- (941.6,0 |- sb38);
\draw[b1] (sb235 |- 0,438.5) -- (944.8,438.5) -- (944.8,0 |- sb38);
\draw[b2] (sb129 |- 0,466.6) -- (948,466.6) -- (948,0 |- sb38);
\draw[b2] (sb129 |- 0,468.5) -- (951.3,468.5) -- (951.3,0 |- sb38);
% right side chain
\draw[r2] (sb52 |- 0,378.3) -- (sb41 |- 0,378.3);
\draw[b2] (sb52 |- 0,382.8) -- (sb41 |- 0,382.8);
\draw[r2] (sb41 |- 0,378.3) -- (sb48 |- 0,378.3);
\draw[b2] (sb41 |- 0,382.8) -- (sb48 |- 0,382.8);
\draw[r2] (sb48 |- 0,378.3) -- (sb30 |- 0,378.3);
\draw[b2] (sb48 |- 0,382.8) -- (sb30 |- 0,382.8);
\draw[b1] (sb97 |- 0,336.6) -- (1357.4,336.6) -- (1357.4,0 |- sb48);
\draw[b2] (sb97 |- 0,338.8) -- (1401,338.8) -- (1401,0 |- sb30);
\draw[r1] (sb97 |- 0,342.8) -- (1404,342.8) -- (1404,0 |- sb30);
\draw[b2] (sb47 |- 0,145.5) -- (1392.6,145.5) -- (1392.6,0 |- sb30);
\draw[b2] (sb47 |- 0,148) -- (1394.5,148) -- (1394.5,0 |- sb30);
\draw[b2] (sb99 |- 0,263) -- (1397,263) -- (1397,0 |- sb30);
\draw[b2] (sb99 |- 0,267.2) -- (1399.3,267.2) -- (1399.3,0 |- sb30);
\draw[b2] (sb47 |- 0,147.5) -- (1495.7,147.5) -- (1495.7,0 |- sb99);
\draw[b2] (sb47 |- 0,150.4) -- (1490.5,150.4) -- (1490.5,0 |- sb99);
\draw[r2] (1454.8,0 |- sb47) -- (1454.8,108.7) -- (sb148 |- 0,108.7);
\draw[b1] (sb148 |- 0,112.2) -- (1461,112.2) -- (1461,1005) -- (sb188 |- 0,1005);
\draw[b2] (1482,0 |- sb43) -- (1482,142.5) -- (sb47 |- 0,142.5);
\draw[b1] (1504,0 |- sb43) -- (1504,866) -- (sb61 |- 0,866);
\draw[r1] (sb179 |- 0,126) -- (sb43 |- 0,126);
\draw[r1] (sb181 |- 0,129) -- (sb179 |- 0,129);
\draw[r1] (sb179 |- 0,132.5) -- (1200.5,132.5) -- (1200.5,0 |- sb87);
\draw[b1] (sb179 |- 0,130.2) -- (1203.2,130.2) -- (1203.2,0 |- sb87);
\draw[b1] (sb213 |- 0,17) -- (1532.6,17) -- (1532.6,0 |- sb61);
\end{pgfonlayer}
\end{tikzpicture}
\end{document}
